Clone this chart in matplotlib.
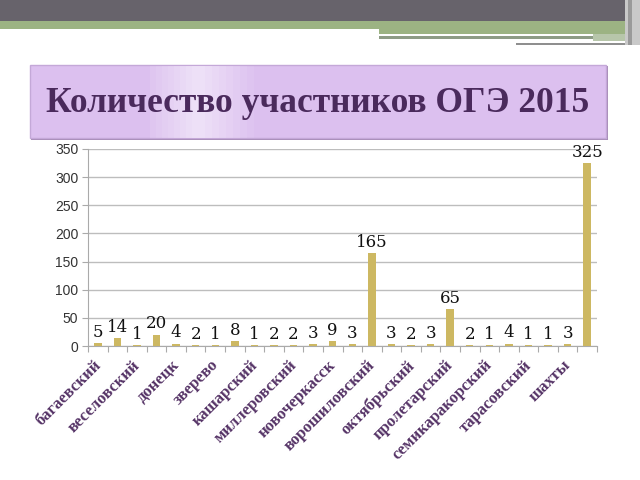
import matplotlib
matplotlib.use("Agg")
import matplotlib.pyplot as plt
from matplotlib.patches import Rectangle
import numpy as np

values = [5, 14, 1, 20, 4, 2, 1, 8, 1, 2, 2, 3, 9, 3, 165,
          3, 2, 3, 65, 2, 1, 4, 1, 1, 3, 325]
tick_labels = ["багаевский", "веселовский", "донецк", "зверево", "кашарский",
               "миллеровский", "новочеркасск", "ворошиловский", "октябрьский",
               "пролетарский", "семикаракорский", "тарасовский", "шахты"]
y_ticks = [0, 50, 100, 150, 200, 250, 300, 350]
title = "Количество участников ОГЭ 2015"

W, H = 640, 480
fig = plt.figure(figsize=(6.4, 4.8), dpi=100)
fig.patch.set_facecolor("white")

def rect(x0, y0, x1, y1, color, z=0, **kw):
    fig.patches.append(Rectangle((x0 / W, 1 - y1 / H), (x1 - x0) / W, (y1 - y0) / H,
                                 transform=fig.transFigure, facecolor=color,
                                 edgecolor=kw.pop("ec", "none"), zorder=z, **kw))

# top decoration
rect(0, 0, 640, 21, "#67636b")
rect(0, 21, 625, 29, "#9cb383")
rect(379, 29, 625, 34, "#9cb383")
rect(379, 34, 593, 35.5, "#ffffff")
rect(379, 36, 593, 39, "#8e9c86")
rect(593, 34, 628, 42, "#b7c6aa")
rect(516, 41, 628, 42.5, "#ffffff")
rect(516, 43, 628, 45, "#8f8f8f")
rect(625, 0, 640, 45, "#c9c9c9")
rect(628, 0, 632, 45, "#9a9a9a")

# title box
rect(31, 66, 608, 140, "#a58bb5")
rect(30, 65, 606, 138, "#dcc0ef", ec="#c4a8d8", lw=1)
for i, a in enumerate(np.linspace(0.15, 0.75, 8)):
    rect(150 + i * 6, 66, 156 + i * 6, 138, "#f4ecfa", alpha=a)
for i, a in enumerate(np.linspace(0.75, 0.1, 8)):
    rect(198 + i * 7, 66, 205 + i * 7, 138, "#f4ecfa", alpha=a)
fig.text(318 / W, 1 - 104 / H, title, ha="center", va="center",
         fontsize=25.5, fontweight="bold", family="Liberation Serif", color="#4a2a5c")

ax = fig.add_axes([88 / W, 1 - 346 / H, (597 - 88) / W, (346 - 149) / H])
x = np.arange(len(values))
ax.bar(x, values, width=0.38, color="#cdb862", zorder=3)
for xi, v in zip(x, values):
    ax.text(xi, v + 4, str(v), ha="center", va="bottom", fontsize=12,
            family="DejaVu Serif", color="#111111")

ax.set_xlim(-0.5, len(values) - 0.5)
ax.set_ylim(0, 350)
ax.set_yticks(y_ticks)
ax.set_yticklabels([str(t) for t in y_ticks], family="Liberation Sans",
                   fontsize=10, color="#333333")
ax.yaxis.grid(True, color="#bdbdbd", lw=1, zorder=0)
ax.set_axisbelow(True)

ax.set_xticks(np.arange(-0.5, len(values), 1), minor=False)
ax.set_xticklabels([])
ax.set_xticks(np.arange(0, len(values), 2) - 0.25, minor=True)
ax.set_xticklabels(tick_labels, minor=True, rotation=45, ha="right",
                   rotation_mode="anchor", fontsize=12, fontweight="bold",
                   family="Liberation Serif", color="#553366")
ax.tick_params(axis="x", which="minor", length=0, pad=8)
ax.tick_params(axis="x", which="major", length=4, color="#aaaaaa")
ax.tick_params(axis="y", length=4, color="#aaaaaa", pad=3)

for s in ["top", "right"]:
    ax.spines[s].set_visible(False)
for s in ["left", "bottom"]:
    ax.spines[s].set_color("#aaaaaa")

fig.savefig("out.png", dpi=100)
